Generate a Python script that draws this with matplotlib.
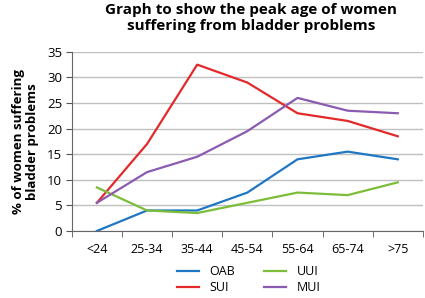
import matplotlib.pyplot as plt
import numpy as np

plt.rcParams['font.family'] = ['Open Sans', 'DejaVu Sans']

age_groups = ["<24", "25-34", "35-44", "45-54", "55-64", "65-74", ">75"]
oab = [0, 4, 4, 7.5, 14, 15.5, 14]
sui = [5.5, 17, 32.5, 29, 23, 21.5, 18.5]
uui = [8.5, 4, 3.5, 5.5, 7.5, 7, 9.5]
mui = [5.5, 11.5, 14.5, 19.5, 26, 23.5, 23]

series = [("OAB", oab, "#1f77c4"), ("SUI", sui, "#e4292b"),
          ("UUI", uui, "#7cbd3a"), ("MUI", mui, "#8a5bb0")]

fig = plt.figure(figsize=(4.25, 2.98), dpi=100)
ax = fig.add_axes([0.169, 0.225, 0.826, 0.601])

x = np.arange(len(age_groups))
for name, vals, col in series:
    ax.plot(x, vals, color=col, lw=1.6, label=name)

ax.set_xlim(-0.5, len(age_groups) - 0.5)
ax.set_ylim(0, 35)
ax.set_yticks(range(0, 36, 5))
ax.set_xticks(x)
ax.set_xticklabels(age_groups)
ax.set_xticks(np.arange(-0.5, len(age_groups), 1), minor=True)
ax.tick_params(axis="x", which="major", length=0, pad=9, labelsize=9)
ax.tick_params(axis="x", which="minor", length=4, color="#555555")
ax.tick_params(axis="y", length=4, color="#555555", labelsize=9.5, pad=3)
ax.grid(axis="y", color="#c0c0c0", lw=1)
ax.set_axisbelow(True)
for s in ["top", "right"]:
    ax.spines[s].set_visible(False)
ax.spines["left"].set_color("#666666")
ax.spines["bottom"].set_color("#666666")

ax.set_ylabel("% of women suffering\nbladder problems", fontsize=9.5,
              fontweight="bold", labelpad=6, linespacing=1.05)
fig.text(0.59, 0.99, "Graph to show the peak age of women\nsuffering from bladder problems",
         ha="center", va="top", fontsize=11, fontweight="bold", linespacing=1.15)

handles, labels = ax.get_legend_handles_labels()
fig.legend(handles, labels,
           loc="lower center", bbox_to_anchor=(0.585, -0.025), ncol=2,
           frameon=False, fontsize=9, handlelength=1.8, columnspacing=2.3,
           labelspacing=0.25)

fig.savefig("out.png", dpi=100)
